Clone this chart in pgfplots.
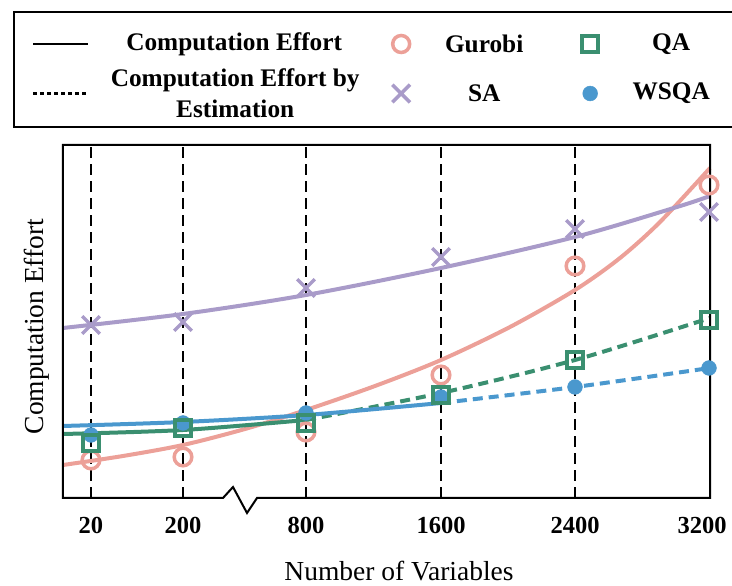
\documentclass[border=0pt]{standalone}
\usepackage{fontspec}
\setmainfont{Liberation Serif}
\usepackage{pgfplots}
\pgfplotsset{compat=1.18}
\definecolor{cgur}{RGB}{236,160,152}
\definecolor{csa}{RGB}{169,155,201}
\definecolor{cqa}{RGB}{58,143,112}
\definecolor{cws}{RGB}{74,152,206}
\pgfplotsset{
  lineleg/.style={legend image code/.code={\draw[##1] (0pt,0pt) -- (55pt,0pt);}},
  markleg/.style={legend image code/.code={\path (0pt,0pt) (30pt,0pt); \draw[##1] plot coordinates {(15pt,0pt)};}},
}
\begin{document}
\begin{tikzpicture}
\begin{axis}[
  scale only axis, width=647pt, height=353pt,
  xmin=63, xmax=710, ymin=0, ymax=353,
  clip=false,
  axis line style={draw=none},
  xtick={91,183,306,441,575,710},
  xticklabels={\textbf{20},\textbf{200},\textbf{800},\textbf{1600},\textbf{2400},\hspace*{-16pt}\textbf{3200}},
  xtick pos=bottom, tick align=inside,
  major tick length=6pt,
  major tick style={black, line width=1.6pt},
  ytick=\empty,
  xmajorgrids,
  grid style={black, line width=1.7pt, dash pattern=on 11pt off 6pt},
  xticklabel style={anchor=base, yshift=-36pt, font=\fontsize{24.5}{30}\selectfont\bfseries},
  /pgf/number format/assume math mode=true,
  legend columns=3,
  legend style={
    at={(axis description cs:-0.0773,1.3796)}, anchor=north west,
    draw=black, line width=2pt, fill=white,
    inner xsep=18pt, inner ysep=12pt, row sep=8pt, column sep=0pt,
    nodes={inner sep=0pt, text depth={}},
    cells={anchor=center},
    font=\fontsize{25.3}{31}\selectfont\bfseries,
  },
]
% legend images
\addlegendimage{black, line width=2pt, lineleg}
\addlegendentry{\parbox[c][40pt][c]{296pt}{\centering\hspace*{-6pt}Computation Effort}}
\addlegendimage{cgur, only marks, mark=o, mark size=8.5pt, mark options={line width=3.5pt}, markleg}
\addlegendentry{\parbox[c][40pt][c]{157pt}{\centering\hspace*{-23pt}Gurobi}}
\addlegendimage{cqa, only marks, mark=square, mark size=7.8pt, mark options={line width=4pt}, markleg}
\addlegendentry{\parbox[c][40pt][c]{111pt}{\centering\hspace*{19pt}QA}}
\addlegendimage{black, line width=2.2pt, dash pattern=on 4pt off 3pt, lineleg}
\addlegendentry{\parbox[c][43pt][c]{296pt}{\centering\hspace*{-4pt}Computation Effort by\\\hspace*{-4pt}Estimation}}
\addlegendimage{csa, only marks, mark=x, mark size=12.5pt, mark options={line width=3.5pt}, markleg}
\addlegendentry{\parbox[c][43pt][c]{157pt}{\centering\hspace*{-23pt}SA}}
\addlegendimage{cws, only marks, mark=*, mark size=7.4pt, mark options={line width=0.5pt}, markleg}
\addlegendentry{\parbox[c][43pt][c]{111pt}{\centering\hspace*{19pt}WSQA}}

% fitted curves
\addplot[cgur, line width=4pt, smooth, forget plot] coordinates {
 (63,33) (123,42) (183,53) (245,69) (306,88) (375,112) (441,138) (510,171) (575,208) (620,240) (660,276) (710,330)};
\addplot[csa, line width=4pt, smooth, forget plot] coordinates {
 (63,170) (183,184) (306,203) (441,230) (575,261) (677,291) (710,302)};
\addplot[cqa, line width=4pt, smooth, forget plot] coordinates {
 (63,64) (183,68) (306,78)};
\addplot[cqa, line width=4pt, smooth, dash pattern=on 10pt off 6pt, forget plot] coordinates {
 (306,78) (441,105) (575,138) (710,180)};
\addplot[cws, line width=4pt, smooth, forget plot] coordinates {
 (63,72) (183,76) (306,83) (441,95)};
\addplot[cws, line width=4pt, smooth, dash pattern=on 10pt off 6pt, forget plot] coordinates {
 (441,95) (575,111) (710,130)};

% measured points
\addplot[cgur, only marks, mark=o, mark size=8.8pt, mark options={line width=3.5pt}, forget plot] coordinates {
 (91,38) (183,41) (306,66) (441,123) (575,232) (709,313)};
\addplot[csa, only marks, mark=x, mark size=12.5pt, mark options={line width=3.5pt}, forget plot] coordinates {
 (91,173) (183,176) (306,210) (441,241) (575,269) (709,286)};
\addplot[cws, only marks, mark=*, mark size=7.4pt, mark options={line width=0.5pt}, forget plot] coordinates {
 (91,63) (183,75) (306,85) (441,101) (575,111) (709,130)};
\addplot[cqa, only marks, mark=square, mark size=7.8pt, mark options={line width=4pt}, forget plot] coordinates {
 (91,55) (183,70) (306,75) (441,103) (575,138) (709,178)};

% frame with axis break
\draw[black, line width=2pt, line join=miter] (axis cs:223,0) -- (axis cs:63,0) -- (axis cs:63,353) -- (axis cs:710,353) -- (axis cs:710,0) -- (axis cs:257,0) -- (axis cs:247,-15) -- (axis cs:233,11) -- cycle;

\node[rotate=90, anchor=base, font=\fontsize{27.5}{32}\selectfont] at (axis cs:44,171.5) {Computation Effort};
\node[anchor=base, font=\fontsize{27.5}{32}\selectfont] at (axis cs:399,-83) {Number of Variables};

\coordinate (BB1) at (axis cs:0,-88);
\coordinate (BB2) at (axis cs:732,498);
\end{axis}
\pgfresetboundingbox
\path[use as bounding box] (BB1) rectangle (BB2);
\end{tikzpicture}
\end{document}
